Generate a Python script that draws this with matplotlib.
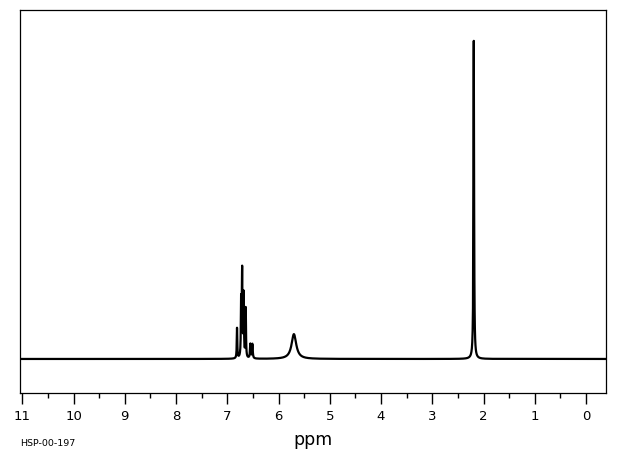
import numpy as np
import matplotlib.pyplot as plt

# peak list (ppm, relative height, half width in ppm)
peak_ppm = [6.81, 6.73, 6.71, 6.68, 6.64, 6.55, 6.51, 5.70, 2.19]
peak_height = [9.5, 17.0, 27.0, 19.5, 15.5, 4.5, 4.5, 7.8, 100.0]
peak_hwhm = [0.006, 0.006, 0.007, 0.006, 0.006, 0.008, 0.008, 0.055, 0.007]

tick_major = list(range(0, 12))
tick_labels = [str(t) for t in tick_major]

ppm = np.linspace(-0.4, 11.1, 23001)
intensity = np.zeros_like(ppm)
for c, h, w in zip(peak_ppm, peak_height, peak_hwhm):
    intensity += h / (1 + ((ppm - c) / w) ** 2)

fig = plt.figure(figsize=(6.2, 4.55), dpi=100)
ax = fig.add_axes([20 / 620, 62 / 455, 586 / 620, 383 / 455])
ax.plot(ppm, intensity, color="black", lw=1.6)

ax.set_xlim(11.045, -0.39)
ax.set_ylim(-10.7, 109.7)
ax.set_yticks([])
ax.set_xticks(tick_major)
ax.set_xticklabels(tick_labels, fontsize=9.5)
ax.set_xticks(np.arange(0.5, 11, 1.0), minor=True)
ax.tick_params(axis="x", which="major", direction="out", length=8, width=1, pad=4)
ax.tick_params(axis="x", which="minor", direction="out", length=3.8, width=1)
for s in ax.spines.values():
    s.set_linewidth(0.9)

fig.text(313 / 620, 1 - 440 / 455, "ppm", fontsize=12.5, ha="center", va="center")
fig.text(20 / 620, 1 - 443 / 455, "HSP-00-197", fontsize=6.8, ha="left", va="center")

fig.savefig("out.png", dpi=100)
